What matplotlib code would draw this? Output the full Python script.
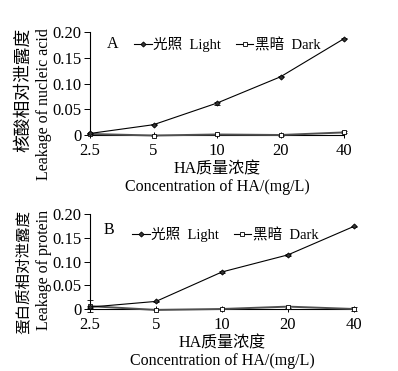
import matplotlib
matplotlib.use("Agg")
import matplotlib.pyplot as plt
from matplotlib.lines import Line2D
import numpy as np

plt.rcParams['font.family'] = ['Liberation Serif', 'Noto Sans CJK SC']

conc_labels = ['2.5', '5', '10', '20', '40']

# panel A: nucleic acid leakage
light_a = [0.003, 0.020, 0.062, 0.113, 0.187]
light_a_err = [0.001, 0.001, 0.003, 0.001, 0.001]
dark_a = [0.002, -0.001, 0.001, 0.000, 0.005]
dark_a_err = [0.001, 0.001, 0.001, 0.001, 0.002]

# panel B: protein leakage
light_b = [0.004, 0.016, 0.078, 0.114, 0.174]
light_b_err = [0.002, 0.001, 0.002, 0.002, 0.001]
dark_b = [0.006, -0.002, 0.000, 0.005, 0.000]
dark_b_err = [0.012, 0.001, 0.001, 0.002, 0.004]

ylabels_a = ['核酸相对泄露度', 'Leakage of nucleic acid']
ylabels_b = ['蛋白质相对泄露度', 'Leakage of protein']

light_style = dict(color='black', lw=0.8, marker='D', ms=2.6, mfc='#333333',
                   mec='black', mew=0.6)
dark_style = dict(color='#505050', lw=1.4, marker='s', ms=2.6, mfc='white',
                  mec='black', mew=0.6)


def draw_panel(ax, light, light_err, dark, dark_err, letter, ylab, cn_size,
               ax_w_px, ax_h_px, letter_pos, leg_pos):
    x = np.arange(len(conc_labels))
    ax.errorbar(x, dark, yerr=dark_err, ecolor='black', elinewidth=0.6,
                capsize=2, capthick=0.6, clip_on=False, zorder=3, **dark_style)
    ax.errorbar(x, light, yerr=light_err, ecolor='black', elinewidth=0.6,
                capsize=2, capthick=0.6, clip_on=False, zorder=4, **light_style)
    ax.set_xlim(0, len(conc_labels) - 1)
    ax.set_ylim(0, 0.2)
    ax.set_xticks(x)
    ax.set_xticklabels(conc_labels, fontsize=12)
    ax.set_yticks([0, 0.05, 0.10, 0.15, 0.20])
    ax.set_yticklabels(['0', '0.05', '0.10', '0.15', '0.20'], fontsize=12)
    ax.tick_params(axis='y', direction='out', length=4, width=0.7, pad=2)
    ax.tick_params(axis='x', direction='inout', length=5, width=0.7, pad=3)
    for s in ['top', 'right']:
        ax.spines[s].set_visible(False)
    for s in ['left', 'bottom']:
        ax.spines[s].set_linewidth(0.8)
    ax.set_xlabel('HA质量浓度\nConcentration of HA/(mg/L)', fontsize=11.5,
                  labelpad=2, linespacing=1.15)
    # two-line y label: Chinese line then English line, top aligned
    ax.text(-66 / ax_w_px, 1 + 4 / ax_h_px, ylab[0], rotation=90,
            transform=ax.transAxes, fontsize=cn_size, ha='center', va='top')
    ax.text(-46 / ax_w_px, 1 + 4 / ax_h_px, ylab[1], rotation=90,
            transform=ax.transAxes, fontsize=11.5, ha='center', va='top')
    ax.text(letter_pos[0], letter_pos[1], letter, transform=ax.transAxes,
            fontsize=11.5, va='center', ha='center')
    handles = [Line2D([], [], **light_style), Line2D([], [], **dark_style)]
    handles[1].set_color('black')
    handles[1].set_linewidth(0.8)
    ax.legend(handles, ['光照  Light', '黑暗  Dark'], ncol=2, frameon=False,
              fontsize=10.5, loc='center left', bbox_to_anchor=leg_pos,
              handlelength=1.2, handletextpad=0.1, columnspacing=1.0,
              borderpad=0, borderaxespad=0)


fig = plt.figure(figsize=(3.98, 3.71), dpi=100)
ax_a = fig.add_axes([90 / 398, 1 - 135 / 371, 254 / 398, 103 / 371])
ax_b = fig.add_axes([90 / 398, 1 - 309 / 371, 264 / 398, 95 / 371])
draw_panel(ax_a, light_a, light_a_err, dark_a, dark_a_err, 'A', ylabels_a,
           12.8, 254, 103, (0.09, 0.88), (0.175, 0.875))
draw_panel(ax_b, light_b, light_b_err, dark_b, dark_b_err, 'B', ylabels_b,
           11.2, 264, 95, (0.07, 0.83), (0.16, 0.78))

fig.savefig('out.png', dpi=100)
